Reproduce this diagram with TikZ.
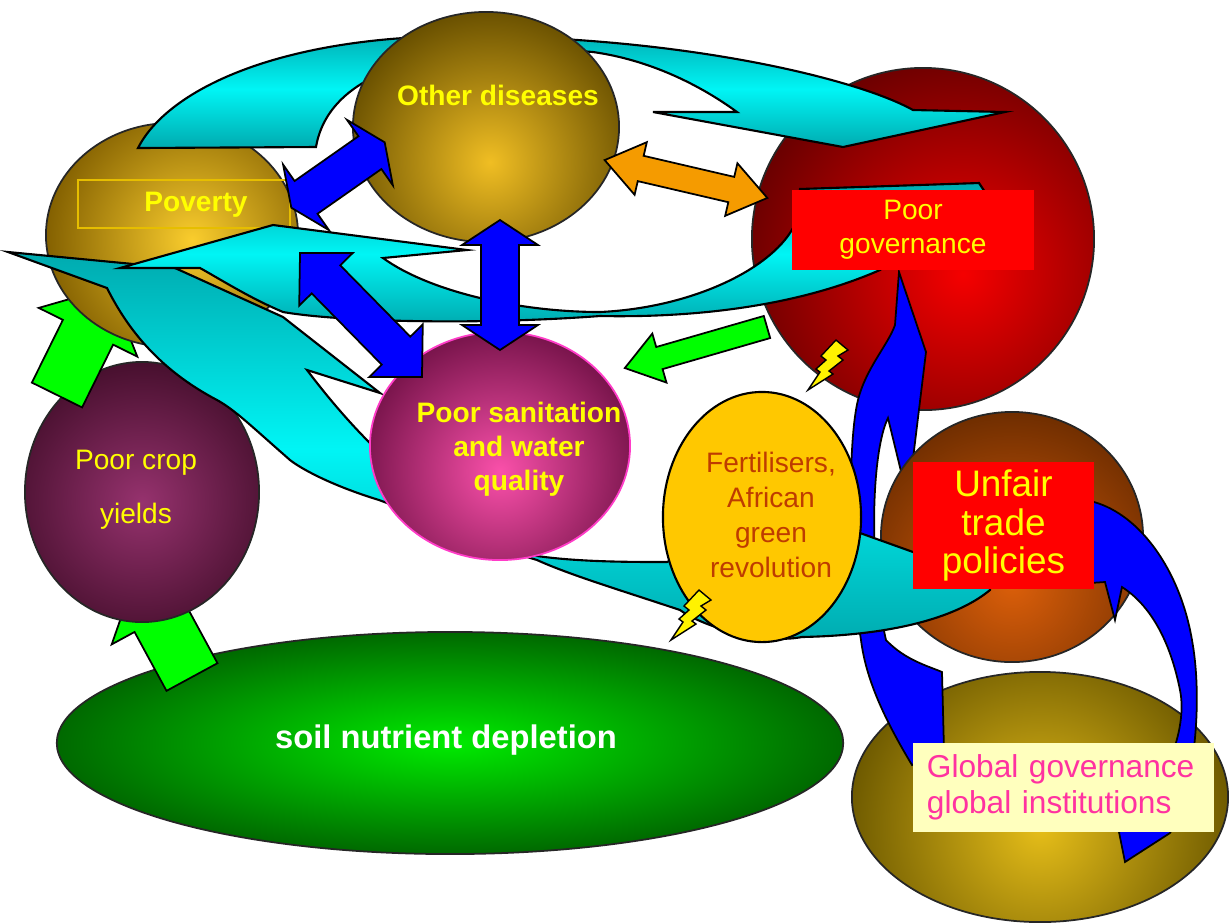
\documentclass[tikz,border=0pt]{standalone}
\usepackage{fontspec}
\setmainfont{Liberation Sans}
\usepackage{xcolor}
\usetikzlibrary{shapes.geometric}

\definecolor{cyanlt}{RGB}{0,245,245}
\definecolor{cyandk}{RGB}{0,170,175}
\definecolor{arrblue}{RGB}{0,0,255}
\definecolor{arrgreen}{RGB}{0,255,0}
\definecolor{arrorange}{RGB}{245,155,0}
\definecolor{boxred}{RGB}{255,0,0}
\definecolor{boxcream}{RGB}{255,255,190}
\definecolor{txtyellow}{RGB}{255,255,0}
\definecolor{txtbrown}{RGB}{190,60,0}
\definecolor{txtpink}{RGB}{255,50,160}
\definecolor{povin}{RGB}{250,205,45}
\definecolor{povout}{RGB}{130,95,0}
\definecolor{othin}{RGB}{240,190,35}
\definecolor{othout}{RGB}{105,80,0}
\definecolor{redin}{RGB}{245,0,0}
\definecolor{redout}{RGB}{105,0,0}
\definecolor{sanin}{RGB}{250,80,170}
\definecolor{sanout}{RGB}{120,20,75}
\definecolor{sanedge}{RGB}{255,60,200}
\definecolor{cropin}{RGB}{150,50,110}
\definecolor{cropout}{RGB}{70,15,45}
\definecolor{tradein}{RGB}{220,95,10}
\definecolor{tradeout}{RGB}{110,45,0}
\definecolor{globin}{RGB}{230,190,25}
\definecolor{globout}{RGB}{110,90,0}
\definecolor{soilin}{RGB}{0,235,0}
\definecolor{soilout}{RGB}{0,105,0}
\definecolor{fertfill}{RGB}{255,200,0}
\definecolor{povframe}{RGB}{230,190,0}

% block arrow with two heads: style, centre x, centre y, angle, half length, shaft half, head half, head length
\newcommand{\dblarrow}[8]{%
  \begin{scope}[shift={(#2,#3)},rotate=#4]
    \draw[#1] (-#5,0) -- ({#8-#5},#7) -- ({#8-#5},#6) -- ({#5-#8},#6) -- ({#5-#8},#7)
      -- (#5,0) -- ({#5-#8},-#7) -- ({#5-#8},-#6) -- ({#8-#5},-#6) -- ({#8-#5},-#7) -- cycle;
  \end{scope}}
% block arrow with one head: style, tail x, tail y, angle, length, shaft half, head half, head length
\newcommand{\sglarrow}[8]{%
  \begin{scope}[shift={(#2,#3)},rotate=#4]
    \draw[#1] (0,-#6) -- ({#5-#8},-#6) -- ({#5-#8},-#7) -- (#5,0) -- ({#5-#8},#7) -- ({#5-#8},#6) -- (0,#6) -- cycle;
  \end{scope}}

\begin{document}
\begin{tikzpicture}[x=0.01cm, y=-0.01cm,
    bubble/.style={ellipse, draw=black!85, line width=0.5pt, inner sep=0pt},
    glow/.style n args={5}{fill=#5, path picture={\shade[inner color=#4, outer color=#5]
      ([shift={(#1,#2)}]path picture bounding box.center) circle (#3);}},
    swoosh/.style={draw=black, line width=0.6pt, top color=cyandk, bottom color=cyandk, middle color=cyanlt},
    bluearr/.style={draw=black, line width=0.5pt, fill=arrblue},
    greenarr/.style={draw=black, line width=0.5pt, fill=arrgreen},
    orangearr/.style={draw=black, line width=0.5pt, fill=arrorange},
    redbox/.style={fill=boxred, inner sep=0pt, text=txtyellow, align=center},
    txt/.style={text=txtyellow, align=center, inner sep=0pt},
    zap/.pic={\draw[fill=yellow, draw=black, line width=0.4pt] (28,0) -- (40,10) -- (30,16) -- (35,20) -- (21,31) -- (25,34)
      -- (0,50) -- (12,32) -- (8,29) -- (18,20) -- (13,16) -- cycle;}
  ]
  \fill[white] (0,0) rectangle (1229,923);
  \useasboundingbox (0,0) rectangle (1229,923);

  % bottom layer
  \node (soil) at (450,743) [bubble, shading=radial, minimum width=7.86cm, minimum height=2.22cm, inner color=soilin, outer color=soilout] {};
  \sglarrow{greenarr}{192}{677}{118.5}{117}{29}{55}{50}
  \node (crop) at (142,492) [bubble, minimum width=2.34cm, minimum height=2.60cm, glow={0cm}{-0.1cm}{1.42cm}{cropin}{cropout}] {};
  \sglarrow{greenarr}{57}{395}{63.7}{120}{28}{55}{50}
  \node (poverty) at (172,235) [bubble, minimum width=2.52cm, minimum height=2.24cm, glow={0.2cm}{-0.05cm}{1.48cm}{povin}{povout}] {};
  \draw[povframe, line width=0.8pt] (78,180) rectangle (290,228);
  \node (povertytxt) at (196,205) [txt, font=\bfseries\fontsize{8}{9.7}\selectfont] {Poverty};
  \node (govern) at (923,239) [bubble, minimum size=3.42cm, glow={0.4cm}{-0.35cm}{2.25cm}{redin}{redout}] {};
  \node (global) at (1040,797) [bubble, minimum width=3.76cm, minimum height=2.50cm, glow={0cm}{-0.3cm}{1.92cm}{globin}{globout}] {};

  % top swoosh
  \draw[swoosh] (138,148) .. controls (165,95) and (260,45) .. (420,37)
    .. controls (650,30) and (850,75) .. (913,110)
    -- (1005,112) -- (843,147) -- (653,112) -- (737,112)
    .. controls (700,85) and (650,60) .. (593,52)
    .. controls (450,40) and (330,65) .. (316,147) -- cycle;
  \node (other) at (486,127) [bubble, minimum width=2.66cm, minimum height=2.30cm, glow={0.04cm}{-0.35cm}{1.52cm}{othin}{othout}] {};
  \node (othertxt) at (498,95) [txt, font=\bfseries\fontsize{8}{9.7}\selectfont] {Other diseases};
  \dblarrow{orangearr}{686}{179}{-13.1}{83.5}{13}{27}{37}

  % blue swoosh up to governance
  \draw[bluearr] (899,272) -- (926,352) -- (908,500) -- (888,418)
    .. controls (872,450) and (868,560) .. (886,640)
    .. controls (905,660) and (928,666) .. (942,672)
    -- (944,750) -- (912,765)
    .. controls (885,720) and (866,680) .. (861,640)
    .. controls (848,560) and (848,440) .. (858,400)
    .. controls (866,368) and (888,345) .. (895,325) -- cycle;
  \node (trade) at (1012,537) [bubble, minimum width=2.62cm, minimum height=2.50cm, glow={0cm}{-0.45cm}{1.72cm}{tradein}{tradeout}] {};

  % middle swooshes
  \draw[swoosh] (8,252) -- (175,268) -- (283,317) -- (380,393) -- (307,370)
    .. controls (345,420) and (420,510) .. (537,556)
    .. controls (580,562) and (630,562) .. (667,562)
    -- (760,520) -- (860,533) -- (913,552) -- (995,560) -- (990,590)
    .. controls (960,615) and (900,635) .. (802,637)
    .. controls (760,645) and (700,625) .. (680,610)
    .. controls (620,590) and (570,575) .. (537,560)
    .. controls (470,540) and (420,515) .. (379,500)
    .. controls (330,485) and (300,468) .. (290,460)
    .. controls (250,425) and (235,410) .. (217,400)
    .. controls (160,370) and (128,330) .. (107,288) -- cycle;
  \draw[swoosh] (120,268) -- (273,225) -- (467,250) -- (383,258)
    .. controls (430,292) and (520,312) .. (600,312)
    .. controls (690,308) and (770,270) .. (793,228)
    -- (800,189) -- (979,183) -- (985,192) -- (880,270)
    .. controls (800,305) and (700,318) .. (600,316)
    .. controls (480,325) and (340,322) .. (283,312)
    .. controls (250,298) and (225,282) .. (200,268) -- cycle;

  \node (fert) at (762,517) [ellipse, draw=black, line width=0.6pt, fill=fertfill, minimum width=1.98cm, minimum height=2.50cm] {};
  \node (ferttxt) at (771,515) [txt, text=txtbrown, font=\fontsize{8}{10}\selectfont] {Fertilisers,\\African\\green\\revolution};
  \node (sanit) at (500,446) [bubble, draw=sanedge, minimum width=2.60cm, minimum height=2.28cm, glow={0cm}{-0.25cm}{1.41cm}{sanin}{sanout}] {};
  \node (sanittxt) at (519,449) [txt, font=\bfseries\fontsize{8}{9.7}\selectfont] {Poor sanitation\\and water\\quality};
  \node (croptxt) at (136,490) [txt, font=\fontsize{8}{15.4}\selectfont] {Poor crop\\yields};
  \node (soiltxt) at (446,740) [txt, text=white, font=\bfseries\fontsize{9.3}{11}\selectfont] {soil nutrient depletion};

  % block arrows
  \dblarrow{bluearr}{338}{175}{35}{57}{20}{40}{18}
  \dblarrow{bluearr}{500}{285}{90}{65}{19}{38}{25}
  \dblarrow{bluearr}{361}{315}{-45.5}{87}{20}{37.5}{37}
  \sglarrow{greenarr}{767}{327}{196.1}{148}{11.5}{25.5}{36}

  % blue swoosh round the trade sphere
  \draw[bluearr] (1060,505) -- (1094,502)
    .. controls (1140,515) and (1180,570) .. (1192,640)
    .. controls (1203,700) and (1195,790) .. (1170,833)
    -- (1125,862) -- (1119,832)
    .. controls (1165,790) and (1188,730) .. (1180,690)
    .. controls (1170,640) and (1150,605) .. (1122,587)
    -- (1115,620) -- (1105,582) -- (1060,585) -- cycle;

  \pic (zapa) at (808,340) {zap};
  \pic (zapb) at (671,590) {zap};

  % boxes
  \node (governbox) at (913,230) [redbox, minimum width=2.42cm, minimum height=0.79cm, font=\fontsize{8}{9.7}\selectfont] {Poor\\governance};
  \node (tradebox) at (1003.5,525.5) [redbox, minimum width=1.81cm, minimum height=1.27cm, font=\fontsize{10.5}{10.9}\selectfont] {Unfair\\trade\\policies};
  \node (globalbox) at (1063.5,787.5) [fill=boxcream, inner sep=0pt, minimum width=3.01cm, minimum height=0.89cm, text width=2.73cm, align=left, text=txtpink, font=\fontsize{9}{10.3}\selectfont] {Global governance\\global institutions};
\end{tikzpicture}
\end{document}
